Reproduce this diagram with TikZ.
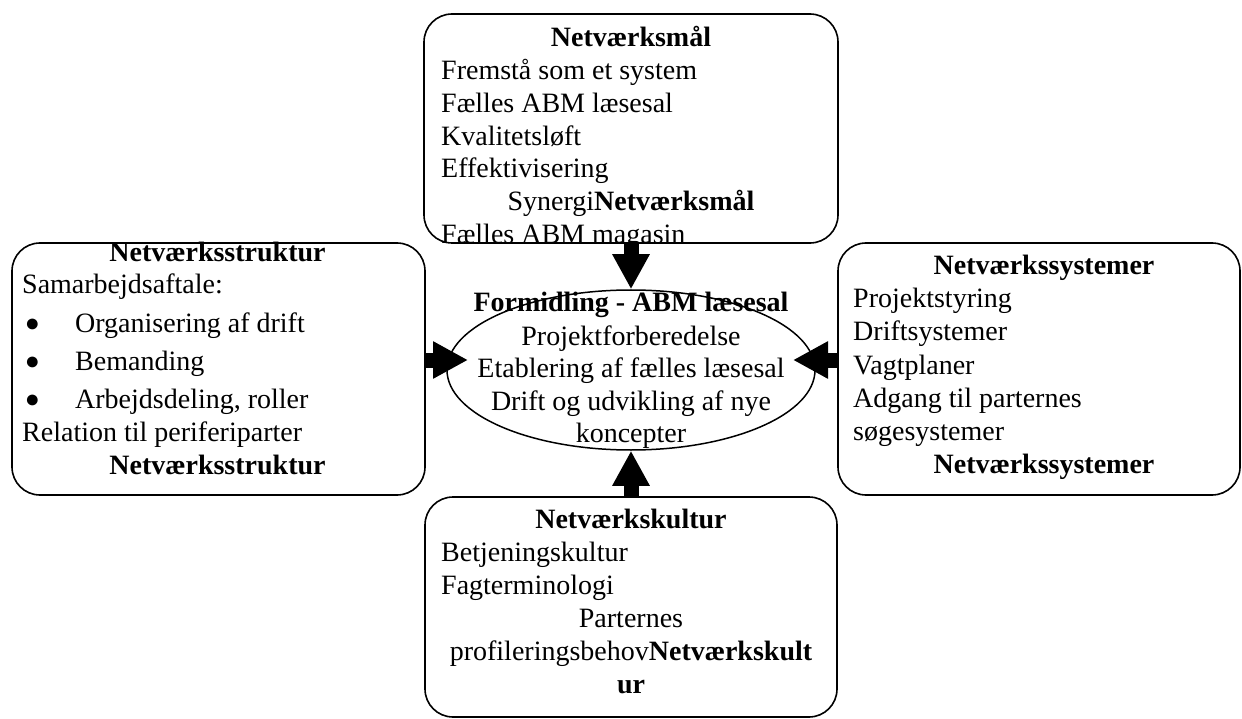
\documentclass[tikz,border=0pt]{standalone}
\usepackage{fontspec}
\setmainfont{Liberation Serif}
\usetikzlibrary{arrows.meta,shapes.geometric}
\begin{document}
\begin{tikzpicture}[x=1pt,y=-1pt,
  panel/.style={draw, line width=1.6pt, rounded corners=28pt, inner sep=0pt},
  hub/.style={draw, ellipse, line width=1.5pt, inner sep=0pt},
  txt/.style={inner sep=0pt, font=\fontsize{28}{33}\selectfont, anchor=base west},
  ctr/.style={inner sep=0pt, font=\fontsize{28}{33}\selectfont, anchor=base},
  dot/.style={inner sep=0pt, font=\fontsize{25}{28}\selectfont, anchor=base},
  bigarrow/.style={line width=15pt, -{Triangle[length=35pt,width=35pt]}}]
\useasboundingbox (0,0) rectangle (1242,719);

% frames
\node[panel, minimum width=414pt, minimum height=229pt] (goal) at (631,128.5) {};
\node[panel, minimum width=413pt, minimum height=252pt] (struct) at (218.5,369) {};
\node[panel, minimum width=402pt, minimum height=252pt] (sys) at (1039,369) {};
\node[panel, minimum width=412pt, minimum height=220pt] (culture) at (631,607) {};
\node[hub, minimum width=368pt, minimum height=160pt] (core) at (631,370) {};

% goals (text cut off at the lower frame edge)
\begin{scope}
\clip (goal.south west) rectangle (goal.north east);
\node[ctr] (g0) at (631,47) {\textbf{Netværksmål}};
\node[txt] (g1) at (441,80) {Fremstå som et system};
\node[txt] (g2) at (441,113) {Fælles ABM læsesal};
\node[txt] (g3) at (441,146) {Kvalitetsløft};
\node[txt] (g4) at (441,178) {Effektivisering};
\node[ctr] (g5) at (631,211) {Synergi\textbf{Netværksmål}};
\node[txt] (g6) at (441,244) {Fælles ABM magasin};
\end{scope}

% structure
\node[ctr] (s0) at (217.5,262) {\textbf{Netværksstruktur}};
\node[txt] (s1) at (22,294) {Samarbejdsaftale:};
\node[dot] (sb1) at (32.5,331) {●};
\node[txt] (s2) at (75,332) {Organisering af drift};
\node[dot] (sb2) at (32.5,369) {●};
\node[txt] (s3) at (75,370) {Bemanding};
\node[dot] (sb3) at (32.5,407) {●};
\node[txt] (s4) at (75,408) {Arbejdsdeling, roller};
\node[txt] (s5) at (22,441) {Relation til periferiparter};
\node[ctr] (s6) at (217.5,474) {\textbf{Netværksstruktur}};

% systems
\node[ctr] (y0) at (1044,275) {\textbf{Netværkssystemer}};
\node[txt] (y1) at (853,308) {Projektstyring};
\node[txt] (y2) at (853,341) {Driftsystemer};
\node[txt] (y3) at (853,374) {Vagtplaner};
\node[txt] (y4) at (853,407) {Adgang til parternes};
\node[txt] (y5) at (853,440) {søgesystemer};
\node[ctr] (y6) at (1044,473) {\textbf{Netværkssystemer}};

% culture
\node[ctr] (c0) at (631,528) {\textbf{Netværkskultur}};
\node[txt] (c1) at (441,561) {Betjeningskultur};
\node[txt] (c2) at (441,594) {Fagterminologi};
\node[ctr] (c3) at (631,627) {Parternes};
\node[ctr] (c4) at (631,660) {profileringsbehov\textbf{Netværkskult}};
\node[ctr] (c5) at (631,693) {\textbf{ur}};

% centre
\node[ctr] (m0) at (631,312) {\textbf{Formidling - ABM læsesal}};
\node[ctr] (m1) at (631,345) {Projektforberedelse};
\node[ctr] (m2) at (631,377) {Etablering af fælles læsesal};
\node[ctr] (m3) at (631,410) {Drift og udvikling af nye};
\node[ctr] (m4) at (631,442) {koncepter};

% arrows into the centre
\coordinate (tipL) at (468,360);
\coordinate (tipR) at (793,360);
\draw[bigarrow] (goal.south) -- (core.north);
\draw[bigarrow] (culture.north) -- (core.south);
\draw[bigarrow] (struct.east |- tipL) -- (tipL);
\draw[bigarrow] (sys.west |- tipR) -- (tipR);
\end{tikzpicture}
\end{document}
